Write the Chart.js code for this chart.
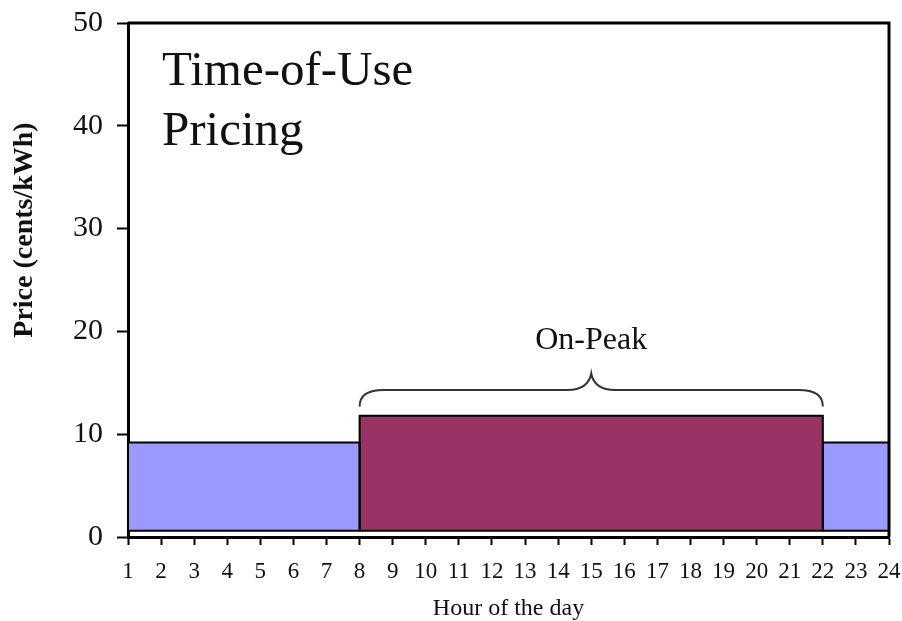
<!DOCTYPE html>
<html>
<head>
<meta charset="utf-8">
<script src="https://cdn.jsdelivr.net/npm/chart.js@4"></script>
<style>
  html, body { margin: 0; padding: 0; background: #ffffff; }
  #wrap { width: 902px; height: 621px; }
</style>
</head>
<body>
<div id="wrap"><canvas id="chart" width="902" height="621"></canvas></div>
<script>
// Tariff periods over the day (hour boundaries) and their price in cents/kWh
const periodStart = [1, 8, 22];
const periodEnd = [8, 22, 24];
const periodPrice = [9.2, 11.8, 9.2];
const periodName = ['Off-Peak', 'On-Peak', 'Off-Peak'];
const priceFloor = 0.6;

// Axis tick labels
const hourTicks = [1, 2, 3, 4, 5, 6, 7, 8, 9, 10, 11, 12, 13, 14, 15, 16, 17, 18, 19, 20, 21, 22, 23, 24];
const priceTicks = [0, 10, 20, 30, 40, 50];

const SERIF = '"Liberation Serif", "Times New Roman", serif';
const periodColor = { 'Off-Peak': '#9999ff', 'On-Peak': '#993366' };

// Each period: a filled block (area down to the floor) plus its black outline
const datasets = [];
periodName.forEach((name, i) => {
  const s = periodStart[i], e = periodEnd[i], p = periodPrice[i];
  datasets.push({
    label: name + ' fill',
    data: [{ x: s, y: p }, { x: e, y: p }],
    backgroundColor: periodColor[name],
    borderWidth: 0,
    pointRadius: 0,
    fill: { value: priceFloor },
    order: 2
  });
  datasets.push({
    label: name,
    data: [{ x: s, y: priceFloor }, { x: s, y: p }, { x: e, y: p }, { x: e, y: priceFloor }, { x: s, y: priceFloor }],
    borderColor: '#000000',
    borderWidth: 2,
    pointRadius: 0,
    fill: false,
    order: 1
  });
});

// Frame, "On-Peak" brace, the chart heading and the price axis title
const decorations = {
  id: 'decorations',
  afterDatasetsDraw(chart) {
    const { ctx, chartArea: a, scales: { x, y } } = chart;
    ctx.save();

    // top and right frame lines
    ctx.strokeStyle = '#000';
    ctx.lineWidth = 3;
    ctx.beginPath();
    ctx.moveTo(a.left, a.top);
    ctx.lineTo(a.right, a.top);
    ctx.lineTo(a.right, a.bottom);
    ctx.stroke();

    // curly brace spanning the on-peak period
    const k = periodName.indexOf('On-Peak');
    const x0 = x.getPixelForValue(periodStart[k]);
    const x1 = x.getPixelForValue(periodEnd[k]);
    const xc = (x0 + x1) / 2;
    const yEnd = y.getPixelForValue(12.7);
    const yMid = y.getPixelForValue(14.3);
    const yTip = y.getPixelForValue(15.9);
    const r = 24;
    ctx.strokeStyle = '#333';
    ctx.lineWidth = 2;
    ctx.beginPath();
    ctx.moveTo(x0, yEnd);
    ctx.quadraticCurveTo(x0, yMid, x0 + r, yMid);
    ctx.lineTo(xc - r, yMid);
    ctx.quadraticCurveTo(xc - 3, yMid, xc, yTip);
    ctx.quadraticCurveTo(xc + 3, yMid, xc + r, yMid);
    ctx.lineTo(x1 - r, yMid);
    ctx.quadraticCurveTo(x1, yMid, x1, yEnd);
    ctx.stroke();

    ctx.fillStyle = '#111';
    ctx.textAlign = 'center';
    ctx.textBaseline = 'alphabetic';
    ctx.font = '32px ' + SERIF;
    ctx.fillText('On-Peak', xc, y.getPixelForValue(18.3));

    // heading in the upper left of the plot
    ctx.textAlign = 'left';
    ctx.font = '49px ' + SERIF;
    ctx.fillText('Time-of-Use', a.left + 34, a.top + 62);
    ctx.fillText('Pricing', a.left + 34, a.top + 122);

    // price axis title, rotated, sitting in the upper part of the axis
    ctx.translate(25, 230);
    ctx.rotate(-Math.PI / 2);
    ctx.textAlign = 'center';
    ctx.textBaseline = 'middle';
    ctx.font = 'bold 28px ' + SERIF;
    ctx.fillText('Price (cents/kWh)', 0, 0);
    ctx.restore();
  }
};

new Chart(document.getElementById('chart'), {
  type: 'line',
  data: { datasets },
  options: {
    responsive: false,
    animation: false,
    layout: { padding: { top: 23, right: 13, left: 0, bottom: 0 } },
    plugins: { legend: { display: false }, tooltip: { enabled: false } },
    scales: {
      x: {
        type: 'linear',
        min: hourTicks[0],
        max: hourTicks[hourTicks.length - 1],
        afterBuildTicks(scale) { scale.ticks = hourTicks.map(v => ({ value: v })); },
        afterFit(scale) {
          scale.height = 84;
          scale.paddingLeft = 0;
          scale.paddingRight = 0;
        },
        ticks: {
          color: '#111',
          font: { family: SERIF, size: 23 },
          padding: 13,
          maxRotation: 0,
          autoSkip: false
        },
        grid: { drawOnChartArea: false, color: '#000', tickLength: 8, tickWidth: 2 },
        border: { display: true, color: '#000', width: 3 },
        title: {
          display: true,
          text: 'Hour of the day',
          color: '#111',
          font: { family: SERIF, size: 24 },
          padding: { top: 0, bottom: -2 }
        }
      },
      y: {
        type: 'linear',
        min: priceTicks[0],
        max: priceTicks[priceTicks.length - 1],
        afterBuildTicks(scale) { scale.ticks = priceTicks.map(v => ({ value: v })); },
        afterFit(scale) {
          scale.width = 128;
          scale.paddingTop = 0;
          scale.paddingBottom = 0;
        },
        ticks: {
          color: '#111',
          font: { family: SERIF, size: 30 },
          padding: 14
        },
        grid: { drawOnChartArea: false, color: '#000', tickLength: 11, tickWidth: 2 },
        border: { display: true, color: '#000', width: 3 }
      }
    }
  },
  plugins: [decorations]
});
</script>
</body>
</html>
